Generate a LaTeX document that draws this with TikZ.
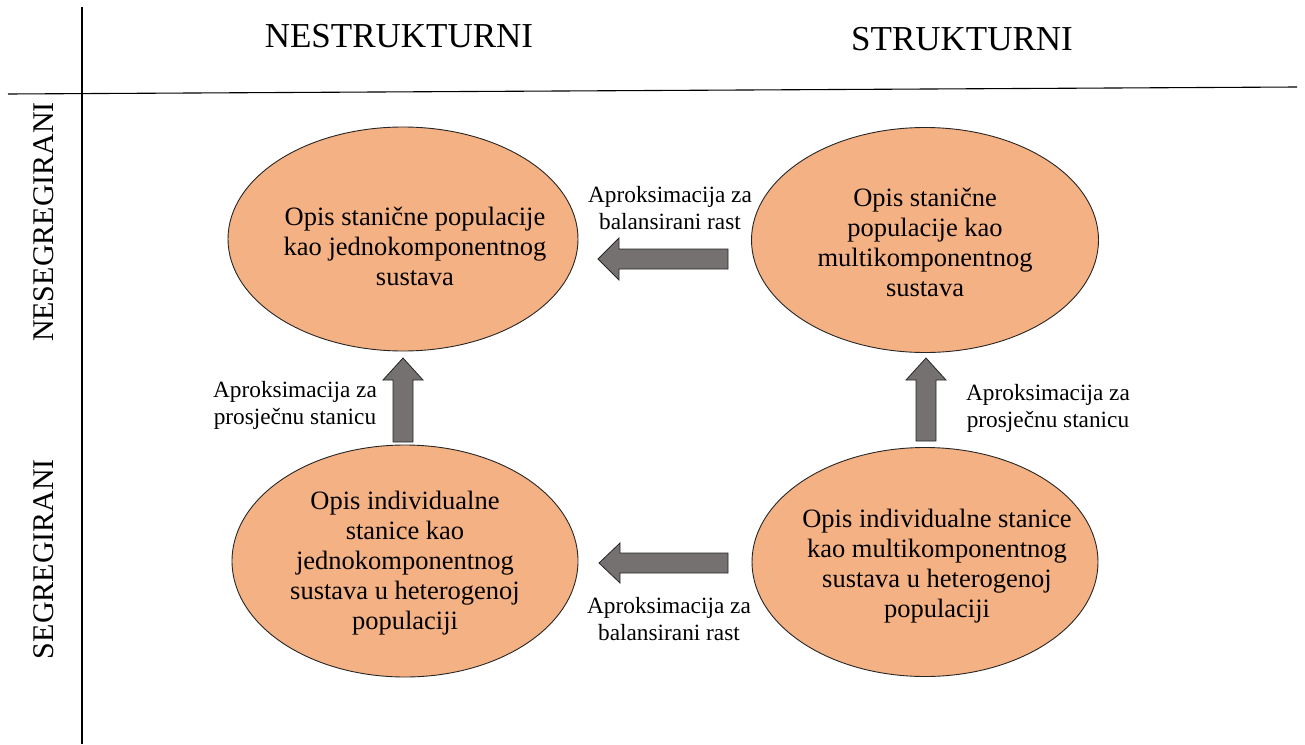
\documentclass[tikz,border=0pt]{standalone}
\usepackage{fontspec}
\setmainfont{Liberation Serif}
\usetikzlibrary{shapes.geometric}
\definecolor{cellfill}{HTML}{F4B183}
\definecolor{arrowfill}{HTML}{767171}
\definecolor{edgecol}{HTML}{262626}
\tikzset{
  cell/.style={ellipse, draw=edgecol, line width=0.9pt, fill=cellfill, inner sep=0pt},
  celltext/.style={align=center, font=\fontsize{26.5}{30}\selectfont, inner sep=0pt},
  lbl/.style={align=center, font=\fontsize{23.3}{27}\selectfont, inner sep=0pt},
  head/.style={anchor=base, font=\fontsize{35}{40}\selectfont, inner sep=0pt},
  sidehead/.style={anchor=base, rotate=90, font=\fontsize{30}{34}\selectfont, inner sep=0pt},
  blockarrow/.style={draw=edgecol, line width=0.8pt, fill=arrowfill, line join=miter},
  grid/.style={draw=black, line width=1.1pt}
}
\begin{document}
\begin{tikzpicture}[x=1pt,y=-1pt]
\useasboundingbox (0,0) rectangle (1305,744);
% grid lines
\coordinate (vtop) at (82,7);
\coordinate (vbot) at (82,744);
\coordinate (hleft) at (8,94);
\coordinate (hright) at (1297,87);
\draw[grid] (vtop) -- (vbot);
\draw[grid] (hleft) -- (hright);
% headers
\node[head] (hns) at (399,47) {NESTRUKTURNI};
\node[head] (hs) at (962,50) {STRUKTURNI};
\node[sidehead] (vns) at (53,222) {NESEGREGIRANI};
\node[sidehead] (vs) at (53,559) {SEGREGIRANI};
% ellipses
\node[cell, minimum width=350, minimum height=224] (tl) at (403,239) {};
\node[celltext] (tltxt) at (415,246) {Opis stanične populacije\\kao jednokomponentnog\\sustava};
\node[cell, minimum width=347, minimum height=225] (tr) at (925,240) {};
\node[celltext] (trtxt) at (925,242) {Opis stanične\\populacije kao\\multikomponentnog\\sustava};
\node[cell, minimum width=346, minimum height=232] (bl) at (405,561) {};
\node[celltext] (bltxt) at (405,563) {Opis individualne\\stanice kao\\jednokomponentnog\\sustava u heterogenoj\\populaciji};
\node[cell, minimum width=346, minimum height=229] (br) at (925,562) {};
\node[celltext] (brtxt) at (937,566) {Opis individualne stanice\\kao multikomponentnog\\sustava u heterogenoj\\populaciji};
% block arrows
% top horizontal (tr -> tl)
\draw[blockarrow] (728,249) -- (619,249) -- (619,238) -- (598,259) -- (619,280) -- (619,269) -- (728,269) -- cycle;
% bottom horizontal (br -> bl)
\draw[blockarrow] (728,553) -- (620,553) -- (620,543) -- (599,563) -- (620,583) -- (620,573) -- (728,573) -- cycle;
% left vertical (bl -> tl)
\draw[blockarrow] (393,442) -- (393,380) -- (383,380) -- (403,358) -- (423,380) -- (413,380) -- (413,442) -- cycle;
% right vertical (br -> tr)
\draw[blockarrow] (916,441) -- (916,380) -- (906,380) -- (926,358) -- (946,380) -- (936,380) -- (936,441) -- cycle;
% labels
\node[lbl] (ltop) at (670,208) {Aproksimacija za\\balansirani rast};
\node[lbl] (lbot) at (669,619) {Aproksimacija za\\balansirani rast};
\node[lbl] (lleft) at (295,405) {Aproksimacija za\\prosječnu stanicu};
\node[lbl] (lright) at (1048,408) {Aproksimacija za\\prosječnu stanicu};
\end{tikzpicture}
\end{document}
